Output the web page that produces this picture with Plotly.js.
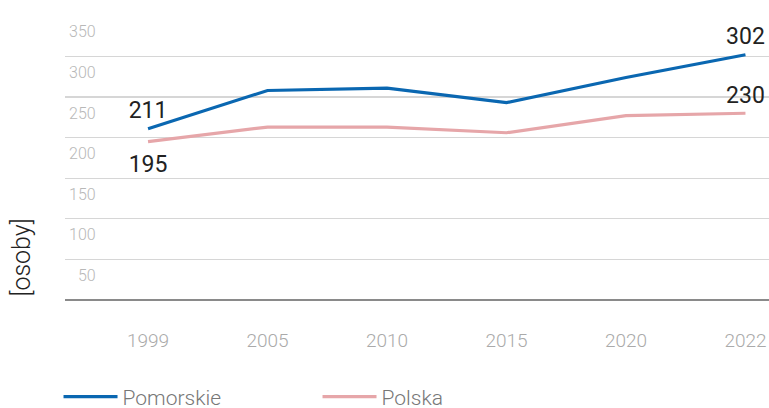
<!DOCTYPE html>
<html>
<head>
<meta charset="utf-8">
<script src="https://cdn.plot.ly/plotly-3.0.1.min.js"></script>
<style>html,body{margin:0;padding:0;background:#fff;}#chart{width:769px;height:408px;}</style>
</head>
<body>
<div id="chart"></div>
<script>
const years = ['1999', '2005', '2010', '2015', '2020', '2022'];
const pomorskie = [211, 258, 261, 243, 274, 302];
const polska = [195, 213, 213, 206, 227, 230];
const yTickVals = [50, 100, 150, 200, 250, 300, 350];
const yTickText = ['50', '100', '150', '200', '250', '300', '350'];
const seriesNames = ['Pomorskie', 'Polska'];
const yTitle = '[osoby]';

function endLabels(arr) {
  return arr.map((v, i) => (i === 0 || i === arr.length - 1) ? String(v) : '');
}

const labelFont = {family: 'Roboto, "Open Sans", sans-serif', size: 23, color: '#222'};
const polskaPos = polska.map((v, i) => i === 0 ? 'bottom center' : 'top center');
function hiddenMarker(positions) {
  return {size: positions.map(p => p.startsWith('bottom') ? 19 : 6),
          color: 'rgba(0,0,0,0)', line: {width: 0}};
}

const traces = [
  {
    x: years, y: pomorskie, name: seriesNames[0], type: 'scatter', mode: 'lines+markers+text',
    line: {color: '#0a67b1', width: 3.2}, marker: hiddenMarker(pomorskie.map(() => 'top center')),
    text: endLabels(pomorskie), textposition: 'top center', textfont: labelFont,
    cliponaxis: false, hoverinfo: 'skip'
  },
  {
    x: years, y: polska, name: seriesNames[1], type: 'scatter', mode: 'lines+markers+text',
    line: {color: '#e6a6a9', width: 3.2}, marker: hiddenMarker(polskaPos),
    text: endLabels(polska), textposition: polskaPos,
    textfont: labelFont, cliponaxis: false, hoverinfo: 'skip'
  }
];

const layout = {
  width: 769, height: 408,
  margin: {l: 65, r: 0, t: 15, b: 108},
  paper_bgcolor: '#fff', plot_bgcolor: '#fff',
  showlegend: true,
  font: {family: 'Roboto, "Open Sans", sans-serif'},
  xaxis: {
    type: 'category', range: [-0.695, 5.197],
    showgrid: false, zeroline: false, showline: false, ticks: '',
    tickfont: {family: 'Roboto, sans-serif', size: 19, color: '#aaaaaa', weight: 300},
    ticklabelstandoff: 27, fixedrange: true
  },
  yaxis: {
    range: [0, 351], tickmode: 'array', tickvals: yTickVals,
    ticktext: yTickText.map(t => t.padStart(3, '\u2007')),
    ticklabelposition: 'inside', ticklabelshift: 16, ticklabelstandoff: 1,
    tickfont: {family: 'Roboto, sans-serif', size: 16, color: '#b8b8b8', weight: 300},
    showgrid: true, gridcolor: '#d6d6d6', gridwidth: 1.3,
    zeroline: true, zerolinecolor: '#8a8a8a', zerolinewidth: 2.5,
    showline: false, ticks: '', fixedrange: true
  },
  legend: {
    orientation: 'h', xref: 'container', x: 0.0761, xanchor: 'left',
    yref: 'container', y: 0.027, yanchor: 'middle',
    font: {family: 'Roboto, sans-serif', size: 21, color: '#777', weight: 300},
    entrywidth: 190, entrywidthmode: 'pixels', itemwidth: 54,
    bgcolor: 'rgba(0,0,0,0)'
  },
  annotations: [{
    text: yTitle, xref: 'paper', yref: 'paper', x: -0.062, y: 0.15,
    xanchor: 'center', yanchor: 'middle', textangle: -90, showarrow: false,
    font: {family: 'Roboto, sans-serif', size: 25, color: '#222', weight: 300}
  }]
};

Plotly.newPlot('chart', traces, layout, {displayModeBar: false, staticPlot: true});
</script>
</body>
</html>
